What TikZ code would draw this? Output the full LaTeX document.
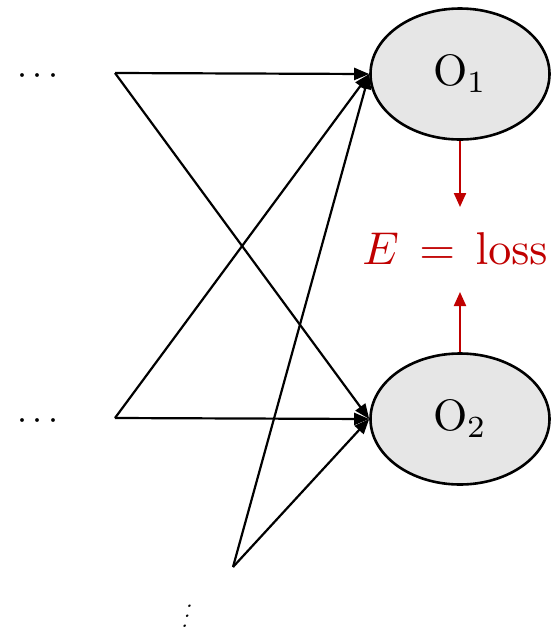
\documentclass[tikz,border=0pt]{standalone}
\usepackage{graphicx}
\usetikzlibrary{shapes.geometric,arrows.meta}
\definecolor{lossred}{RGB}{192,0,0}
\definecolor{nodegray}{RGB}{230,230,230}
\begin{document}
\begin{tikzpicture}[x=1pt,y=-1pt,
  outnode/.style={ellipse,draw,line width=2.6pt,fill=nodegray,minimum width=179pt,minimum height=131pt,inner sep=0pt},
  conn/.style={line width=2.2pt,-{Triangle[length=15pt,width=12pt]}},
  redarrow/.style={draw=lossred,line width=2.2pt,-{Triangle[length=14pt,width=12pt]}}
]
\useasboundingbox (0,0) rectangle (554,633);
\node[outnode] (o1) at (460,74) {\scalebox{4.4}{$\mathrm{O}_1$}};
\node[outnode] (o2) at (460,419) {\scalebox{4.4}{$\mathrm{O}_2$}};
\coordinate (a) at (115,73);
\coordinate (b) at (115,418);
\coordinate (c) at (233,567);
\node (d1) at (38,76) {\scalebox{3.6}{$\cdots$}};
\node (d2) at (38,421) {\scalebox{3.6}{$\cdots$}};
\node[xslant=0.25,inner sep=0pt] (d3) at (189,609) {\scalebox{2.4}{$\vdots$}};
\node[text=lossred,inner sep=0pt] (loss) at (455,249) {\scalebox{4.6}{$E\,=\,\mathrm{loss}$}};
\draw[conn] (a) -- (o1.west);
\draw[conn] (a) -- (o2.west);
\draw[conn] (b) -- (o2.west);
\draw[conn] (b) -- (o1.west);
\draw[conn] (c) -- (o1.west);
\draw[conn] (c) -- (o2.west);
\draw[redarrow] (o1.south) -- (460,207);
\draw[redarrow] (o2.north) -- (460,292);
\end{tikzpicture}
\end{document}
